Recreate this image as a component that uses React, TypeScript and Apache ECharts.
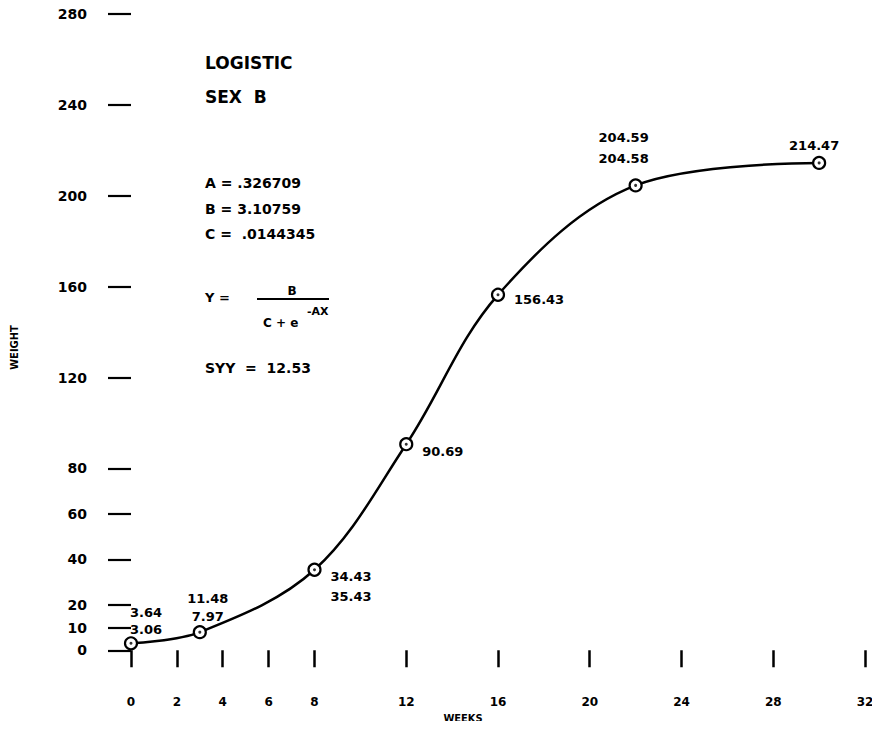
import React, { useEffect, useRef } from "react";
import * as echarts from "echarts";

const weeks = [0, 3, 8, 12, 16, 22, 30];
const fittedWeight = [3.06, 7.97, 35.43, 90.69, 156.43, 204.58, 214.47];
const observedLabels = ["3.64", "11.48", "34.43", "", "", "204.59", ""];
const weightTicks = [0, 10, 20, 40, 60, 80, 120, 160, 200, 240, 280];
const weekTicks = [0, 2, 4, 6, 8, 12, 16, 20, 24, 28, 32];
const titleLines = ["LOGISTIC", "SEX  B"];
const coefficientLines = ["A = .326709", "B = 3.10759", "C =  .0144345"];
const formulaParts = { lhs: "Y =", numerator: "B", denominator: "C + e", exponent: "-AX" };
const fitStatistic = "SYY  =  12.53";

const FONT = '"DejaVu Sans", "Noto Sans", sans-serif';
const FONT_COND = '"DejaVu Sans Condensed", "DejaVu Sans", sans-serif';

const labelPlacement = [
  { align: "center", offset: [15, -22], lineHeight: 17 },
  { align: "center", offset: [8, -25], lineHeight: 18 },
  { align: "left", offset: [16, 17], lineHeight: 20 },
  { align: "left", offset: [16, 7], lineHeight: 16 },
  { align: "left", offset: [16, 5], lineHeight: 16 },
  { align: "center", offset: [-12, -37], lineHeight: 21 },
  { align: "center", offset: [-5, -17], lineHeight: 16 },
];

function txt(text: string, x: number, y: number, size: number, align = "left") {
  return {
    type: "text",
    x,
    y,
    style: {
      text,
      font: `bold ${size}px ${FONT}`,
      fill: "#000",
      textAlign: align,
      textVerticalAlign: "middle",
    },
  };
}

export default function App() {
  const ref = useRef<HTMLDivElement>(null);

  useEffect(() => {
    if (!ref.current) return;
    const chart = echarts.init(ref.current, null, { renderer: "svg" });

    const lineData = weeks.map((w, i) => {
      const p = labelPlacement[i];
      const text = observedLabels[i]
        ? `${observedLabels[i]}\n${fittedWeight[i].toFixed(2)}`
        : fittedWeight[i].toFixed(2);
      return {
        value: [w, fittedWeight[i]],
        label: {
          show: true,
          position: "inside",
          align: p.align,
          verticalAlign: "middle",
          offset: p.offset,
          lineHeight: p.lineHeight,
          formatter: text,
        },
      };
    });

    const graphics: any[] = [];
    graphics.push(txt(titleLines[0], 205, 63, 17));
    graphics.push(txt(titleLines[1], 205, 97, 17));
    graphics.push(txt(coefficientLines[0], 205, 183, 14));
    graphics.push(txt(coefficientLines[1], 205, 209, 14));
    graphics.push(txt(coefficientLines[2], 205, 234, 14));
    graphics.push(txt(formulaParts.lhs, 205, 297, 13));
    graphics.push(txt(formulaParts.numerator, 292, 291, 12, "center"));
    graphics.push({
      type: "line",
      shape: { x1: 257, y1: 299, x2: 329, y2: 299 },
      style: { stroke: "#000", lineWidth: 2 },
    });
    graphics.push(txt(formulaParts.exponent, 307, 311, 11));
    graphics.push(txt(formulaParts.denominator, 263, 323, 12));
    graphics.push(txt(fitStatistic, 205, 368, 14));

    chart.setOption({
      animation: false,
      backgroundColor: "#fff",
      textStyle: { fontFamily: FONT, color: "#000" },
      grid: { left: 114, right: 15, top: 14, bottom: 52 },
      xAxis: {
        type: "value",
        min: -0.741,
        max: 32,
        axisLine: { show: false },
        splitLine: { show: false },
        axisTick: {
          show: true,
          length: 17,
          customValues: weekTicks,
          lineStyle: { color: "#000", width: 2.5 },
        },
        axisLabel: {
          customValues: weekTicks,
          margin: 24,
          fontSize: 12,
          fontWeight: "bold",
          color: "#000",
          fontFamily: FONT,
        },
        name: "WEEKS",
        nameLocation: "middle",
        nameGap: 40,
        nameTextStyle: {
          fontSize: 11,
          fontWeight: "bold",
          color: "#000",
          fontFamily: FONT_COND,
          padding: [0, 53, 0, 0],
        },
      },
      yAxis: {
        type: "value",
        min: -9.61,
        max: 280,
        axisLine: { show: false },
        splitLine: { show: false },
        axisTick: {
          show: true,
          length: 23,
          customValues: weightTicks,
          lineStyle: { color: "#000", width: 2.2 },
        },
        axisLabel: {
          customValues: weightTicks,
          margin: 27,
          fontSize: 14,
          fontWeight: "bold",
          color: "#000",
          fontFamily: FONT,
        },
        name: "WEIGHT",
        nameLocation: "middle",
        nameGap: 94,
        nameRotate: 90,
        nameTextStyle: {
          fontSize: 11,
          fontWeight: "bold",
          color: "#000",
          fontFamily: FONT_COND,
          padding: [0, 9, 0, 0],
        },
      },
      series: [
        {
          type: "line",
          data: lineData,
          smooth: 0.35,
          symbol: "circle",
          symbolSize: 12,
          itemStyle: { color: "#fff", borderColor: "#000", borderWidth: 2.2 },
          lineStyle: { color: "#000", width: 2.5 },
          label: {
            show: true,
            color: "#000",
            fontSize: 13,
            fontWeight: "bold",
            fontFamily: FONT,
          },
          z: 2,
        },
        {
          type: "scatter",
          data: weeks.map((w, i) => [w, fittedWeight[i]]),
          symbol: "circle",
          symbolSize: 3,
          itemStyle: { color: "#000" },
          silent: true,
          z: 5,
        },
      ],
      graphic: graphics,
    });

    return () => chart.dispose();
  }, []);

  return <div ref={ref} style={{ width: 880, height: 729, margin: -8 }} />;
}
